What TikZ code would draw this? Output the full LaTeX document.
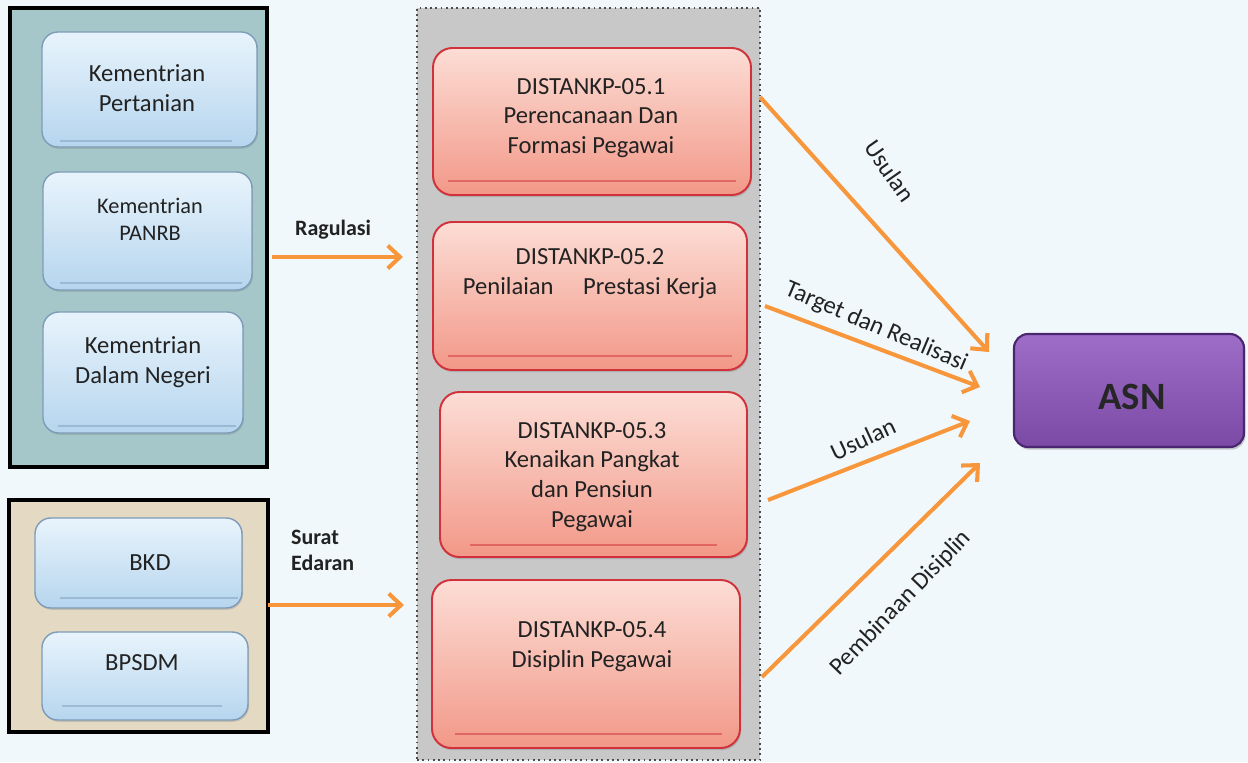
\documentclass[tikz,border=0pt]{standalone}
\usepackage{fontspec}
\setmainfont{Carlito}
\usetikzlibrary{arrows.meta,fit,shadows}
\definecolor{bgc}{HTML}{F0F8FB}
\definecolor{tealc}{HTML}{A6C7C9}
\definecolor{beigec}{HTML}{E4DAC4}
\definecolor{grayc}{HTML}{C9C8C8}
\definecolor{bluetop}{HTML}{E8F4FC}
\definecolor{bluebot}{HTML}{B6D5EE}
\definecolor{blueline}{HTML}{7E9CB8}
\definecolor{redtop}{HTML}{FCDDD5}
\definecolor{redbot}{HTML}{F29888}
\definecolor{redline}{HTML}{D0313A}
\definecolor{purtop}{HTML}{9D6DC7}
\definecolor{purbot}{HTML}{7A4AA5}
\definecolor{purline}{HTML}{4A2570}
\definecolor{orangec}{HTML}{F7963A}
\definecolor{txtc}{HTML}{222222}
\tikzset{
  outerbox/.style={draw=black, line width=1.8pt, inner sep=0pt},
  bluebox/.style={draw=blueline, line width=0.8pt, rounded corners=9pt, top color=bluetop, bottom color=bluebot, inner sep=0pt,
     drop shadow={shadow xshift=0.6pt, shadow yshift=-1pt, opacity=0.3}},
  redbox/.style={draw=redline, line width=1.1pt, rounded corners=11pt, top color=redtop, bottom color=redbot, inner sep=0pt,
     drop shadow={shadow xshift=0.6pt, shadow yshift=-1.2pt, opacity=0.35}},
  purbox/.style={draw=purline, line width=1.2pt, rounded corners=8pt, top color=purtop, bottom color=purbot, inner sep=0pt,
     drop shadow={shadow xshift=0.8pt, shadow yshift=-1.5pt, opacity=0.4}},
  boxtxt/.style={text=txtc, align=center, font=\fontsize{14}{17}\selectfont},
  smalltxt/.style={text=txtc, align=center, font=\fontsize{12.7}{15.5}\selectfont},
  lbl/.style={text=txtc, font=\fontsize{12.5}{15}\selectfont\bfseries, align=left},
  albl/.style={text=txtc, font=\fontsize{14}{16}\selectfont, inner sep=1pt},
  arr/.style={draw=orangec, line width=2.3pt, -{Straight Barb[length=7pt,width=13pt,line width=2.3pt]}},
  shine/.style={draw=#1, line width=0.8pt, opacity=0.5}
}
\begin{document}
\begin{tikzpicture}[x=0.02cm,y=-0.02cm]
\useasboundingbox (0,0) rectangle (1248,762);
\fill[bgc] (0,0) rectangle (1248,762);

% left groups
\node[outerbox, fill=tealc, fit={(10,8) (267,467)}] (g1) {};
\node[outerbox, fill=beigec, fit={(9,500) (268,732)}] (g2) {};
% middle container
\node[draw=black!70, dotted, line width=1pt, fill=grayc, inner sep=0pt, fit={(417,8) (760,760)}] (mid) {};

% blue boxes
\node[bluebox, fit={(42,32) (257,147)}] (b1) {};
\node[bluebox, fit={(43,172) (252,290)}] (b2) {};
\node[bluebox, fit={(43,312) (243,433)}] (b3) {};
\node[bluebox, fit={(35,518) (242,608)}] (b4) {};
\node[bluebox, fit={(42,632) (248,720)}] (b5) {};
\foreach \a/\b/\y in {60/232/141, 60/242/283, 58/236/426, 60/238/598, 62/222/706}{
  \draw[shine=blueline] (\a,\y) -- (\b,\y);
}
\node[boxtxt] (t1) at (147,88) {Kementrian\\Pertanian};
\node[smalltxt] (t2) at (150,219) {Kementrian\\PANRB};
\node[boxtxt] (t3) at (143,362) {Kementrian\\Dalam Negeri};
\node[boxtxt] (t4) at (150,563) {BKD};
\node[boxtxt] (t5) at (142,663) {BPSDM};

% red boxes
\node[redbox, fit={(433,48) (751,195)}] (r1) {};
\node[redbox, fit={(433,222) (747,370)}] (r2) {};
\node[redbox, fit={(440,392) (747,557)}] (r3) {};
\node[redbox, fit={(432,580) (740,748)}] (r4) {};
\foreach \a/\b/\y in {448/736/181, 448/732/356, 470/717/545, 455/722/734}{
  \draw[shine=redline] (\a,\y) -- (\b,\y);
}
\node[boxtxt] (d1) at (591,118) {DISTANKP-05.1\\Perencanaan Dan\\Formasi Pegawai};
\node[boxtxt] (d2) at (590,274) {DISTANKP-05.2\\Penilaian\hspace{1.2em}Prestasi Kerja};
\node[boxtxt] (d3) at (592,477) {DISTANKP-05.3\\Kenaikan Pangkat\\dan Pensiun\\Pegawai};
\node[boxtxt] (d4) at (592,647) {DISTANKP-05.4\\Disiplin Pegawai};

% ASN
\node[purbox, fit={(1014,334) (1244,447)}] (asn) {};
\node[text=black!85, font=\fontsize{22}{26}\selectfont\bfseries] (asnt) at (1132,397) {ASN};

% left arrows
\coordinate (s1) at (272,257);
\coordinate (e1) at (403,257);
\coordinate (s2) at (268,605);
\coordinate (e2) at (404,605);
\draw[arr] (s1) -- (e1);
\draw[arr] (s2) -- (e2);
\node[lbl, anchor=west] (l1) at (289,230) {Ragulasi};
\node[lbl, anchor=north west] (l2) at (285,524) {Surat\\Edaran};

% right arrows
\coordinate (a1s) at (760,97);
\coordinate (a1e) at (989,352);
\coordinate (a2s) at (765,306);
\coordinate (a2e) at (980,387);
\coordinate (a3s) at (768,500);
\coordinate (a3e) at (970,421);
\coordinate (a4s) at (762,677);
\coordinate (a4e) at (980,463);
\draw[arr] (a1s) -- (a1e);
\draw[arr] (a2s) -- (a2e);
\draw[arr] (a3s) -- (a3e);
\draw[arr] (a4s) -- (a4e);
\node[albl, rotate=-55] (u1) at (890,171) {Usulan};
\node[albl, rotate=-23] (u2) at (876,327) {Target dan Realisasi};
\node[albl, rotate=25] (u3) at (863,439) {Usulan};
\node[albl, rotate=46] (u4) at (901,603) {Pembinaan Disiplin};
\end{tikzpicture}
\end{document}
